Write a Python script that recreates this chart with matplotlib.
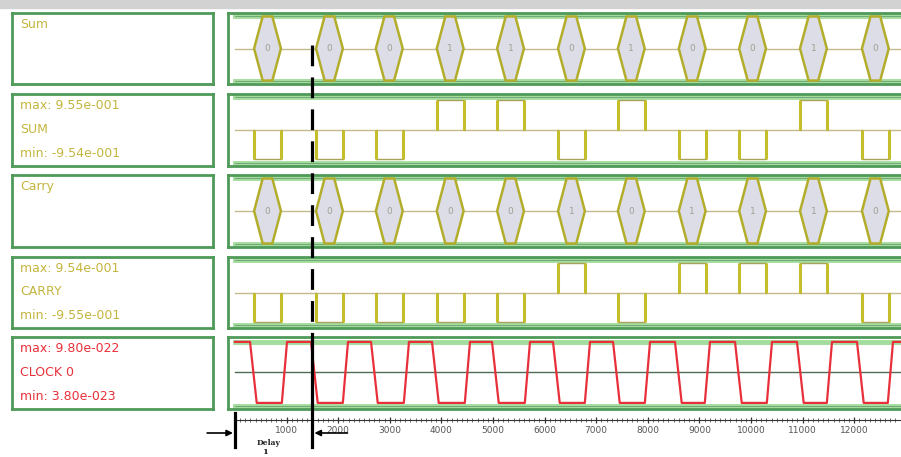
import numpy as np
import matplotlib.pyplot as plt
from matplotlib.patches import Polygon, Rectangle
from matplotlib.transforms import blended_transform_factory

W, H = 901, 457

# values (time axis units)
pulse_start = [370, 1570, 2730, 3910, 5080, 6260, 7420, 8600, 9770, 10950, 12150]
pulse_width = 520
sum_bits = [0, 0, 0, 1, 1, 0, 1, 0, 0, 1, 0]
carry_bits = [0, 0, 0, 0, 0, 1, 0, 1, 1, 1, 0]
sum_max, sum_min = 0.955, -0.954
carry_max, carry_min = 0.954, -0.955
clock_fall = [291, 1473, 2636, 3818, 4981, 6163, 7326, 8527, 9690, 10891, 12054]
clock_rise = [1008, 2190, 3372, 4554, 5717, 6880, 8043, 9205, 10407, 11570, 12752]
tick_times = [1000, 2000, 3000, 4000, 5000, 6000, 7000, 8000, 9000, 10000, 11000, 12000]
tick_labels = ['1000', '2000', '3000', '4000', '5000', '6000', '7000', '8000',
               '9000', '10000', '11000', '12000']
delay_start, delay_end = 0, 1500

row_titles = ['Sum', 'SUM', 'Carry', 'CARRY', 'CLOCK 0']
row_max = [None, 'max: 9.55e-001', None, 'max: 9.54e-001', 'max: 9.80e-022']
row_min = [None, 'min: -9.54e-001', None, 'min: -9.55e-001', 'min: 3.80e-023']

# layout (pixels)
row_y = [(13, 84), (94, 166), (175, 247), (257, 328), (337, 409)]
T0_PX, PX_PER_T = 235, 0.0516
PANEL_X0, PANEL_X1 = 228, 915
t_left = (PANEL_X0 - T0_PX) / PX_PER_T
t_right = (PANEL_X1 - T0_PX) / PX_PER_T

BOX = '#4f9a58'
RAIL = '#a3dc9c'
OLIVE = '#b3ad2c'
OLIVE_TXT = '#c4b53e'
RED = '#e8303a'


def rect(x0, y0, x1, y1):
    return [x0 / W, 1 - y1 / H, (x1 - x0) / W, (y1 - y0) / H]


def style_box(ax):
    ax.set_xticks([])
    ax.set_yticks([])
    for s in ax.spines.values():
        s.set_color(BOX)
        s.set_linewidth(2)


fig = plt.figure(figsize=(W / 100, H / 100), dpi=100)
fig.add_artist(Rectangle((0, 1 - 8 / H), 1, 8 / H, transform=fig.transFigure,
                         color='#d2d2d2', zorder=0))

for i, (y0, y1) in enumerate(row_y):
    # label box
    lab = fig.add_axes(rect(12, y0, 213, y1))
    style_box(lab)
    col = RED if i == 4 else OLIVE_TXT
    if row_max[i] is None:
        lab.text(0.04, 0.84, row_titles[i], color=col, fontsize=9, va='center',
                 transform=lab.transAxes)
    else:
        lab.text(0.04, 0.84, row_max[i], color=col, fontsize=9, va='center',
                 transform=lab.transAxes)
        lab.text(0.04, 0.51, row_titles[i], color=col, fontsize=9, va='center',
                 transform=lab.transAxes)
        lab.text(0.04, 0.18, row_min[i], color=col, fontsize=9, va='center',
                 transform=lab.transAxes)

    # waveform panel
    ax = fig.add_axes(rect(PANEL_X0, y0, PANEL_X1, y1))
    style_box(ax)
    ax.set_xlim(t_left, t_right)

    if i == 4:
        ax.set_ylim(-0.1, 1.08)
        ax.axhline(1.0, xmin=0.01, color=RAIL, lw=3.5, zorder=1)
        ax.axhline(-0.05, xmin=0.01, color=RAIL, lw=3.5, zorder=1)
        ax.axhline(-0.05, xmin=0.01, color='#6a9f72', lw=0.6, zorder=1)
        ax.axhline(0.5, xmin=0.01, color='#4d6b55', lw=1.0, zorder=1)
        ct, cv = [0], [1]
        for f, r in zip(clock_fall, clock_rise):
            ct += [f, f + 130, r - 100, r]
            cv += [1, 0, 0, 1]
        ct.append(t_right)
        cv.append(1)
        ax.plot(ct, cv, color=RED, lw=1.6, zorder=3)
        continue

    ax.set_ylim(-1.22, 1.22)
    for yy in (1.12, -1.12):
        ax.axhline(yy, xmin=0.01, color=RAIL, lw=3.5, zorder=1)
        ax.axhline(yy, xmin=0.01, color='#6a9f72', lw=0.6, zorder=1)
    ax.axhline(0, xmin=0.01, color='#c2ba8c', lw=1.0, zorder=1)

    if i in (0, 2):
        bits = sum_bits if i == 0 else carry_bits
        for s, b in zip(pulse_start, bits):
            e = s + pulse_width
            pts = [(s, 0), (s + 0.32 * pulse_width, 1.1), (s + 0.68 * pulse_width, 1.1),
                   (e, 0), (s + 0.68 * pulse_width, -1.1), (s + 0.32 * pulse_width, -1.1)]
            ax.add_patch(Polygon(pts, closed=True, facecolor='#dddde8',
                                 edgecolor=OLIVE, lw=1.8, zorder=2))
            ax.text(s + pulse_width / 2, 0, str(b), color='#a09f90', fontsize=6.5,
                    ha='center', va='center', zorder=3)
    else:
        bits = sum_bits if i == 1 else carry_bits
        hi, lo = (sum_max, sum_min) if i == 1 else (carry_max, carry_min)
        for s, b in zip(pulse_start, bits):
            v = (hi if b else lo) / 0.955
            e = s + pulse_width
            ax.plot([s, s, e, e], [0, v, v, 0], color='#a8a25a', lw=1.0, zorder=2)
            ax.vlines([s, e], 0, v, color='#c4be2a', lw=2.2, zorder=3)

# time ruler
rul = fig.add_axes(rect(PANEL_X0, 412, PANEL_X1, 420))
rul.set_xlim(t_left, t_right)
rul.set_ylim(0, 1)
rul.patch.set_alpha(0)
for k in ('top', 'left', 'right'):
    rul.spines[k].set_visible(False)
rul.spines['bottom'].set_bounds(0, t_right)
rul.spines['bottom'].set_color('#333333')
rul.spines['bottom'].set_linewidth(0.8)
rul.set_yticks([])
rul.set_xticks(tick_times)
rul.set_xticklabels(tick_labels)
rul.set_xticks(np.arange(0, 13000, 100), minor=True)
rul.tick_params(axis='x', which='major', direction='inout', length=4, width=0.9,
                color='#333333', labelsize=6.5, labelcolor='#555555', pad=2)
rul.tick_params(axis='x', which='minor', direction='inout', length=3, width=0.6,
                color='#555555')

# delay marker
trans = blended_transform_factory(rul.transData, fig.transFigure)
rul.plot([delay_end, delay_end], [1 - 45 / H, 1 - 331 / H], transform=trans,
         color='black', lw=2.3, dashes=(6.5, 3.5), clip_on=False, zorder=10)
rul.plot([delay_end, delay_end], [1 - 334 / H, 1 - 447 / H], transform=trans,
         color='black', lw=2.3, clip_on=False, zorder=10)
rul.plot([delay_start, delay_start], [1 - 413 / H, 1 - 447 / H], transform=trans,
         color='black', lw=2.3, clip_on=False, zorder=10)
y_arrow = 1 - 433 / H
rul.annotate('', xy=(delay_start - 40, y_arrow), xytext=(delay_start - 540, y_arrow),
             xycoords=trans, textcoords=trans,
             arrowprops=dict(arrowstyle='-|>', color='black', lw=1.2,
                             mutation_scale=9, shrinkA=0, shrinkB=0))
rul.annotate('', xy=(delay_end + 40, y_arrow), xytext=(delay_end + 680, y_arrow),
             xycoords=trans, textcoords=trans,
             arrowprops=dict(arrowstyle='-|>', color='black', lw=1.2,
                             mutation_scale=9, shrinkA=0, shrinkB=0))
rul.text(420, 1 - 443 / H, 'Delay', transform=trans, fontsize=5.5,
         family='DejaVu Serif', weight='bold', va='center', color='#222222')
rul.text(520, 1 - 448 / H, '1', transform=trans, fontsize=6,
         family='DejaVu Serif', weight='bold', va='top', color='#222222')

fig.savefig('out.png', dpi=100)
